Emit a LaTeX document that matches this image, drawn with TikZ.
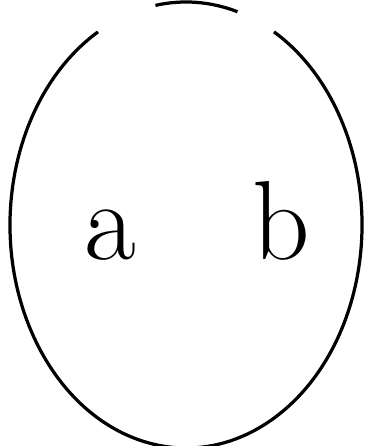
\documentclass[tikz,border=0pt]{standalone}
\usepackage{tikz}

\tikzset{
  setlabel/.style={anchor=base, inner sep=0pt, font=\fontsize{80}{80}\selectfont},
}

\begin{document}
\begin{tikzpicture}[x=0.025cm, y=0.025cm, line width=2.3pt]
\useasboundingbox (0,0) rectangle (369,446);

% the set, broken twice near the top
\coordinate (cS) at (186,221);
\draw (cS) ++(120:176 and 223) arc[start angle=120, end angle=420, x radius=176, y radius=223];
\draw (cS) ++(73:176 and 223) arc[start angle=73, end angle=100, x radius=176, y radius=223];

% its two elements
\node[setlabel] (eA) at (110,186) {a};
\node[setlabel] (eB) at (281,186) {b};

\end{tikzpicture}
\end{document}
